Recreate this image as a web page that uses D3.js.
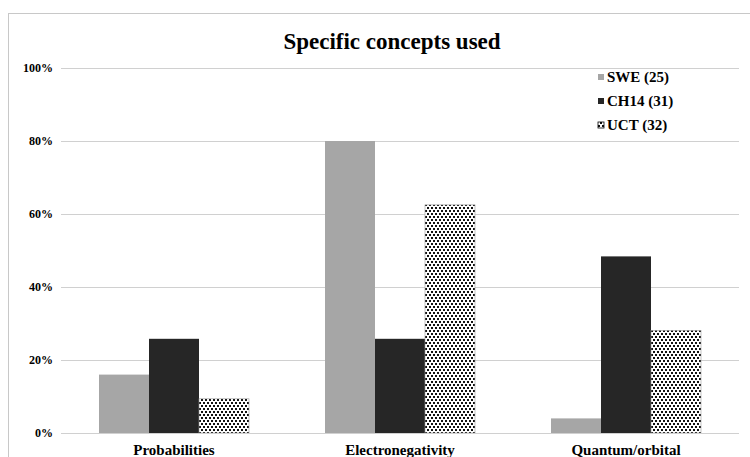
<!DOCTYPE html>
<html>
<head>
<meta charset="utf-8">
<script src="https://cdn.jsdelivr.net/npm/d3@7"></script>
<style>
  html, body { margin: 0; padding: 0; background: #fff; }
  svg { display: block; }
  text { font-family: "Liberation Serif", "Times New Roman", serif; font-weight: bold; fill: #000; }
</style>
</head>
<body>
<svg id="chart" width="750" height="457"></svg>
<script>
// Share of answers using each concept, per cohort (n in brackets)
const categories = ["Probabilities", "Electronegativity", "Quantum/orbital"];
const seriesNames = ["SWE (25)", "CH14 (31)", "UCT (32)"];
const sweValues  = [4 / 25, 20 / 25, 1 / 25];
const ch14Values = [8 / 31, 8 / 31, 15 / 31];
const uctValues  = [3 / 32, 20 / 32, 9 / 32];
const yTicks = [0, 0.2, 0.4, 0.6, 0.8, 1.0];

const series = [
  { name: seriesNames[0], values: sweValues,  fill: "#a6a6a6", patterned: false },
  { name: seriesNames[1], values: ch14Values, fill: "#262626", patterned: false },
  { name: seriesNames[2], values: uctValues,  fill: "url(#confetti)", patterned: true }
];

const svg = d3.select("#chart");

// Confetti pattern for the third series
const defs = svg.append("defs");
const pat = defs.append("pattern")
  .attr("id", "confetti")
  .attr("patternUnits", "userSpaceOnUse")
  .attr("width", 4).attr("height", 6);
pat.append("rect").attr("width", 4).attr("height", 6).attr("fill", "#fff");
[[0, 0], [2, 3]].forEach(([px, py]) => {
  pat.append("rect").attr("x", px).attr("y", py).attr("width", 2).attr("height", 2).attr("fill", "#111");
});

// Chart frame
svg.append("rect")
  .attr("x", 8.5).attr("y", 13.5)
  .attr("width", 760).attr("height", 460)
  .attr("fill", "none").attr("stroke", "#c8c8c8").attr("stroke-width", 1);

const plot = { left: 61, right: 739, top: 68, bottom: 433 };

const x0 = d3.scaleBand().domain(categories).range([plot.left, plot.right]).paddingInner(0).paddingOuter(0);
const groupWidth = 150;
const x1 = d3.scaleBand().domain(seriesNames).range([0, groupWidth]).padding(0);
const y = d3.scaleLinear().domain([0, 1]).range([plot.bottom, plot.top]);

// Gridlines
svg.append("g")
  .selectAll("line")
  .data(yTicks)
  .join("line")
  .attr("x1", plot.left).attr("x2", plot.right)
  .attr("y1", d => Math.round(y(d)) + 0.5).attr("y2", d => Math.round(y(d)) + 0.5)
  .attr("stroke", "#d0d0d0").attr("stroke-width", 1);

// Y axis labels
const yAxis = d3.axisLeft(y).tickValues(yTicks).tickFormat(d3.format(".0%")).tickSize(0).tickPadding(0);
const yg = svg.append("g").attr("transform", `translate(${plot.left - 8},0)`).call(yAxis);
yg.select(".domain").remove();
yg.selectAll("text").style("font-size", "12px").style("font-family", "Liberation Serif, serif").style("font-weight", "bold");

// Bars
const groups = svg.append("g")
  .selectAll("g")
  .data(categories)
  .join("g")
  .attr("transform", c => `translate(${x0(c) + (x0.bandwidth() - groupWidth) / 2},0)`);

groups.selectAll("rect")
  .data((c, i) => series.map(s => ({ name: s.name, value: s.values[i], fill: s.fill, patterned: s.patterned })))
  .join("rect")
  .attr("x", d => x1(d.name))
  .attr("width", x1.bandwidth())
  .attr("y", d => y(d.value))
  .attr("height", d => y(0) - y(d.value))
  .attr("fill", d => d.fill)
  .attr("stroke", d => d.patterned ? "#9a9a9a" : "none")
  .attr("stroke-width", 0.6);

// Baseline
svg.append("line")
  .attr("x1", plot.left).attr("x2", plot.right)
  .attr("y1", plot.bottom + 0.5).attr("y2", plot.bottom + 0.5)
  .attr("stroke", "#d0d0d0");

// Category labels
const xAxis = d3.axisBottom(x0).tickSize(0).tickPadding(0);
const xg = svg.append("g").attr("transform", `translate(0,${plot.bottom + 11})`).call(xAxis);
xg.select(".domain").remove();
xg.selectAll("text").attr("dy", "0.71em").style("font-size", "15px").style("font-family", "Liberation Serif, serif").style("font-weight", "bold");

// Title
svg.append("text")
  .attr("x", 392).attr("y", 49)
  .attr("text-anchor", "middle")
  .style("font-size", "23px")
  .text("Specific concepts used");

// Legend
const legend = svg.append("g").attr("transform", "translate(598,77)");
const li = legend.selectAll("g").data(series).join("g")
  .attr("transform", (d, i) => `translate(0,${i * 24})`);
li.append("rect").attr("x", 0).attr("y", -3).attr("width", 6).attr("height", 6)
  .attr("fill", d => d.fill)
  .attr("stroke", d => d.patterned ? "#000" : "none")
  .attr("stroke-width", 0.8);
li.append("text").attr("x", 9).attr("y", 0).attr("dy", "0.35em")
  .style("font-size", "15px").text(d => d.name);
</script>
</body>
</html>
